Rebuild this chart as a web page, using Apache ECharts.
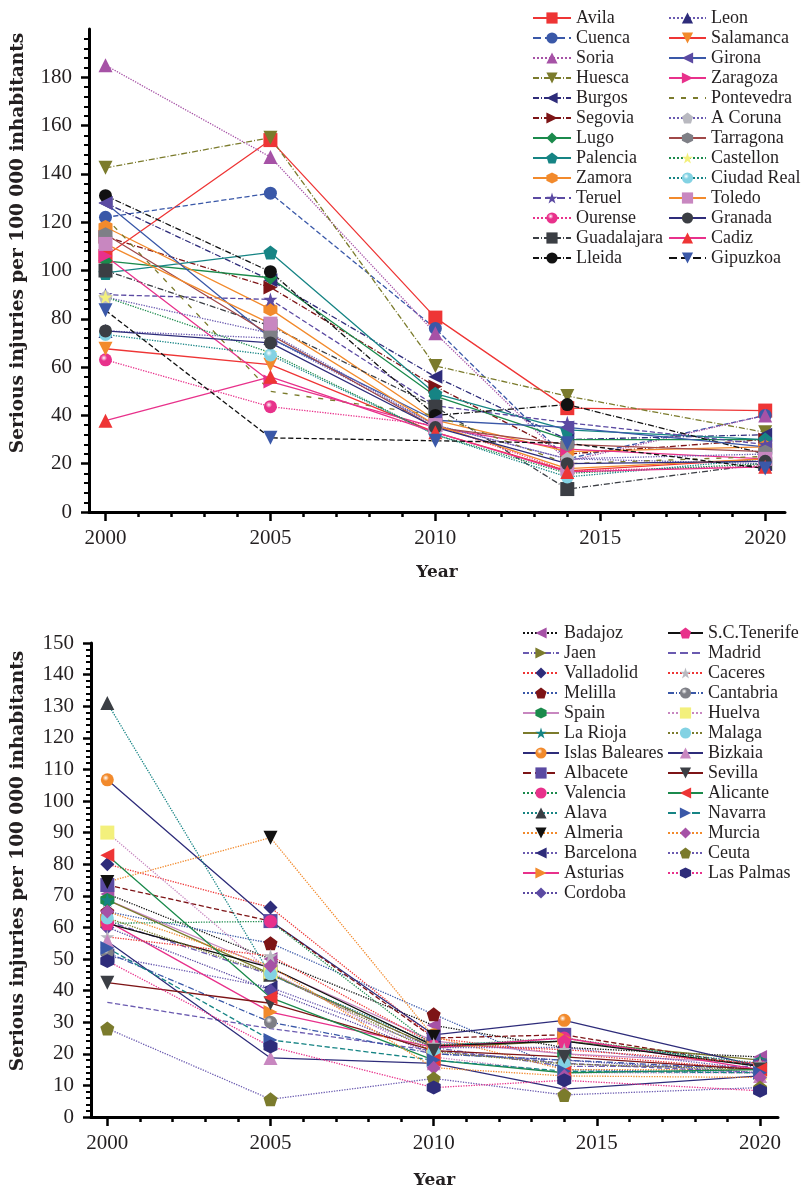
<!DOCTYPE html>
<html><head><meta charset="utf-8">
<script src="https://cdn.jsdelivr.net/npm/echarts@6/dist/echarts.min.js"></script>
<style>html,body{margin:0;padding:0;background:#fff}#c{width:801px;height:1190px}</style>
</head><body><div id="c"></div>
<script>
const years = [2000, 2005, 2010, 2014, 2020];
const xTicks = [2000, 2005, 2010, 2015, 2020];
const yTitle = 'Serious injuries per 100 000 inhabitants';
const xTitle = 'Year';

// ---- top chart ----
const topNames = ['Avila','Cuenca','Soria','Huesca','Burgos','Segovia','Lugo','Palencia','Zamora','Teruel','Ourense','Guadalajara','Lleida',
  'Leon','Salamanca','Girona','Zaragoza','Pontevedra','A Coruna','Tarragona','Castellon','Ciudad Real','Toledo','Granada','Cadiz','Gipuzkoa'];
const top2000 = [106,122,185,142.5,128,114,104,99,118,90,63,100,131, 75,67.6,128,106,122,89,115,89,73.5,111,75,37.8,83.5];
const top2005 = [154,132,147,155,96,93,97,107.5,84,88,43.6,77,99.5, 72,61,72,54,50,74,73.4,66,65,78,70,56,30.7];
const top2010 = [80.5,76,74,60.5,56,52,48,49,38,44,36,43.6,40, 36,33,38,35,40,36,35,32,32,36,35,33,29.5];
const top2014 = [43,22,21,48,30,24,30,34,25,37,17,9.5,44.5, 22,17,35,26,20,22,28,16,14.5,18,20,16.6,28.5];
const top2020 = [42,40,40,33,32,30,30,30,27,28,19,20,24, 20,22,27,22,23,24,25,20,22,22,21,18.7,18];

// ---- bottom chart ----
const botNames = ['Badajoz','Jaen','Valladolid','Melilla','Spain','La Rioja','Islas Baleares','Albacete','Valencia','Alava','Almeria','Barcelona','Asturias','Cordoba',
  'S.C.Tenerife','Madrid','Caceres','Cantabria','Huelva','Malaga','Bizkaia','Sevilla','Alicante','Navarra','Murcia','Ceuta','Las Palmas'];
const bot2000 = [70.6,62,80,65,68.7,68.7,106.7,73.4,61.3,131,74.4,51,62,60, 61.3,36.3,57,52,90,63,55.6,42.5,82.8,53.5,65,28,49.4];
const bot2005 = [50,45,66.3,55,47,45.3,62,62,61.9,45,88.4,41,33.2,40, 47.3,28,51,30,46,45.3,18.7,36,37.8,24.4,47.8,5.6,22.3];
const bot2010 = [29,22,25,32.5,24,22,26,25,22.5,23,25.4,22,22,20, 22.5,21,23,20,19,20.7,17,21,18,18,15.6,12.2,9.3];
const bot2014 = [22,16,20,15,20,24,30.6,26,25,24,15,22,25,18, 24,17,21.3,18,14,16.8,8.8,19,14,14.5,13,7,11.6];
const bot2020 = [19,16,15,14,17,18,16,16,16,17,15,15,15,14, 16,14,17,15,14,15,13,15,15,14,12.5,9.3,8.3];

// ---- styles ----
const C = {red:'#ee3535', blue:'#3a58a8', purple:'#a652a6', olive:'#7b7b2c', navy:'#2e2c7a', dred:'#7d1416', green:'#1b8a4c',
  teal:'#168484', orange:'#f28a2c', violet:'#5b4aa2', pink:'#e8318b', dgray:'#3b3e44', black:'#111', lgray:'#b9b9c0',
  gray:'#7e7f86', yellow:'#f3f07c', lblue:'#83d2e3', lilac:'#c887c0', brown:'#a04848', lviolet:'#6a5ab0'};
const S = {
  sq:'rect', ci:'circle', up:'triangle', di:'diamond',
  dn:'path://M0,0L10,0L5,9Z', lt:'path://M0,5L9,0L9,10Z', rt:'path://M0,0L9,5L0,10Z',
  pe:'path://M50,0L97.6,34.5L79.4,90.5L20.6,90.5L2.4,34.5Z',
  hx:'path://M50,0L93.3,25L93.3,75L50,100L6.7,75L6.7,25Z',
  st:'path://M50,0L61.17,34.63L97.55,34.55L68.07,55.87L79.39,90.45L50,69L20.61,90.45L31.93,55.87L2.45,34.55L38.83,34.63Z',
  none:'none'
};
const DD = [6,2,1,2];
// [lineColor, lineType, symbol, markerColor, ball]
const topStyle = [
  [C.red,'solid','sq',C.red],[C.blue,'dashed','ci',C.blue],[C.purple,'dotted','up',C.purple],[C.olive,DD,'dn',C.olive],
  [C.navy,DD,'lt',C.navy],[C.dred,DD,'rt',C.dred],[C.green,'solid','di',C.green],[C.teal,'solid','pe',C.teal],
  [C.orange,'solid','hx',C.orange],[C.violet,'dashed','st',C.violet],[C.pink,'dotted','ci',C.pink,1],[C.dgray,DD,'sq',C.dgray],
  [C.black,DD,'ci',C.black],
  [C.lviolet,'dotted','up',C.navy],[C.red,'solid','dn',C.orange],[C.blue,'solid','lt',C.violet],[C.pink,'solid','rt',C.pink],
  [C.olive,[5,7],'none',C.olive],[C.lviolet,'dotted','pe',C.lgray],[C.brown,'solid','hx',C.gray],[C.green,'dotted','st',C.yellow],
  [C.teal,'dotted','ci',C.lblue,1],[C.orange,'solid','sq',C.lilac],[C.navy,'solid','ci',C.dgray],[C.pink,'solid','up',C.red],
  [C.black,'dashed','dn',C.blue]
];
const botStyle = [
  [C.black,'dotted','lt',C.purple],[C.lviolet,DD,'rt',C.olive],[C.red,'dotted','di',C.navy],[C.blue,'dotted','pe',C.dred],
  [C.lilac,'solid','hx',C.green],[C.olive,'solid','st',C.teal],[C.navy,'solid','ci',C.orange,1],[C.dred,'dashed','sq',C.violet],
  [C.green,'dotted','ci',C.pink],[C.teal,'dotted','up',C.dgray],[C.orange,'dotted','dn',C.black],[C.lviolet,'dotted','lt',C.navy],
  [C.pink,'solid','rt',C.orange],[C.violet,'dotted','di',C.violet],
  [C.black,'solid','pe',C.pink],[C.lviolet,'dashed','none',C.lviolet],[C.red,'dotted','st',C.lgray],[C.blue,DD,'ci',C.gray,1],
  [C.lilac,'dotted','sq',C.yellow],[C.olive,'dotted','ci',C.lblue],[C.navy,'solid','up',C.lilac],[C.dred,'solid','dn',C.dgray],
  [C.green,'solid','lt',C.red],[C.teal,'dashed','rt',C.blue],[C.orange,'dotted','di',C.purple],[C.lviolet,'dotted','pe',C.olive],
  [C.pink,'dotted','hx',C.navy]
];

const FONT = 'Liberation Serif';
const TFONT = 'DejaVu Serif';
const TXT = '#231f20';

function fill(c, ball){
  if(!ball) return c;
  return {type:'radial', x:0.38, y:0.35, r:0.7, colorStops:[{offset:0,color:'#ffffff'},{offset:0.35,color:c},{offset:1,color:c}]};
}
function makeSeries(names, cols, styles, gi){
  return names.map((n,i)=>{
    const st = styles[i];
    const sym = S[st[2]];
    return {
      name:n, type:'line', xAxisIndex:gi*2, yAxisIndex:gi*2,
      data: years.map((y,k)=>[y, cols[k][i]]),
      symbol: sym, showSymbol: sym!=='none',
      symbolSize: (st[2]==='ci') ? 13 : 14,
      lineStyle:{color:st[0], width:1.3, type:st[1]},
      itemStyle:{color:fill(st[3], st[4]), borderWidth:0},
      emphasis:{disabled:true}, silent:true, z: 2
    };
  });
}
const series = [
  ...makeSeries(topNames,[top2000,top2005,top2010,top2014,top2020],topStyle,0),
  ...makeSeries(botNames,[bot2000,bot2005,bot2010,bot2014,bot2020],botStyle,1)
];

function minorVals(lo, hi, step, major){
  const out=[]; for(let v=lo; v<hi; v+=step){ if(Math.abs(v/major-Math.round(v/major))>1e-6) out.push(v); } return out;
}
function xAxes(gi){
  const base = {type:'value', gridIndex:gi, min:1999.5, max: gi===0?2020.6:2020.55, splitLine:{show:false}, position:'bottom', offset:0};
  return [
    Object.assign({}, base, {
      name:xTitle, nameLocation:'middle', nameGap: gi===0?52:55,
      nameTextStyle:{fontFamily:TFONT, fontWeight:'bold', fontSize:17, color:TXT},
      axisLine:{show:true, onZero:false, lineStyle:{color:'#000', width:3}},
      axisTick:{show:true, customValues:xTicks, length:9, lineStyle:{color:'#000', width:2.5}},
      axisLabel:{customValues:xTicks, margin:16, fontFamily:FONT, fontSize:21, color:TXT, formatter:v=>String(v)}
    }),
    Object.assign({}, base, {
      axisLine:{show:false, onZero:false},
      axisTick:{show:true, customValues:minorVals(2001,2020,1,5), length:5, lineStyle:{color:'#000', width:2.5}},
      axisLabel:{show:false}
    })
  ];
}
function yAxes(gi, max, interval, minorStep){
  return [
    {type:'value', gridIndex:gi, min:0, max:max, interval:interval, splitLine:{show:false}, position:'left', offset:0,
      axisLine:{show:true, onZero:false, lineStyle:{color:'#000', width:3}},
      axisTick:{show:true, length:8, lineStyle:{color:'#000', width:2.5}},
      axisLabel:{margin:17, fontFamily:FONT, fontSize:21, color:TXT, showMaxLabel: gi===1}
    },
    {type:'value', gridIndex:gi, min:0, max:max, splitLine:{show:false}, position:'left', offset:0,
      axisLine:{show:false, onZero:false},
      axisTick:{show:true, customValues:minorVals(minorStep, max, minorStep, interval), length:5, lineStyle:{color:'#000', width:2}},
      axisLabel:{show:false}
    }
  ];
}
function legend(names, styles, left, top, w){
  const data = names.map((n,i)=> styles[i][2]==='none' ? {name:n, itemStyle:{color:'rgba(0,0,0,0)', borderWidth:0}} : n);
  return {orient:'vertical', left:left, top:top, itemWidth:w, itemHeight:14, itemGap:2, data:data,
    selectedMode:false, padding:0,
    textStyle:{fontFamily:FONT, fontSize:18, color:TXT}};
}

const chart = echarts.init(document.getElementById('c'), null, {renderer:'canvas'});
chart.setOption({
  animation:false,
  backgroundColor:'#fff',
  grid:[{left:89, top:29, width:696, height:483}, {left:91, top:643, width:687, height:480}],
  xAxis:[...xAxes(0), ...xAxes(1)],
  yAxis:[...yAxes(0,200,20,4), ...yAxes(1,150,10,2)],
  legend:[
    legend(topNames.slice(0,13), topStyle.slice(0,13), 532, 9, 38), legend(topNames.slice(13), topStyle.slice(13), 668, 9, 37),
    legend(botNames.slice(0,14), botStyle.slice(0,14), 522, 624, 36), legend(botNames.slice(14), botStyle.slice(14), 667, 624, 35)
  ],
  graphic:[
    {type:'text', x:18, y:243, rotation:Math.PI/2, style:{text:yTitle, font:'bold 18.5px "DejaVu Serif"', fill:TXT, align:'center', verticalAlign:'middle'}},
    {type:'text', x:18, y:861, rotation:Math.PI/2, style:{text:yTitle, font:'bold 18.5px "DejaVu Serif"', fill:TXT, align:'center', verticalAlign:'middle'}}
  ],
  series: series
});
</script></body></html>
